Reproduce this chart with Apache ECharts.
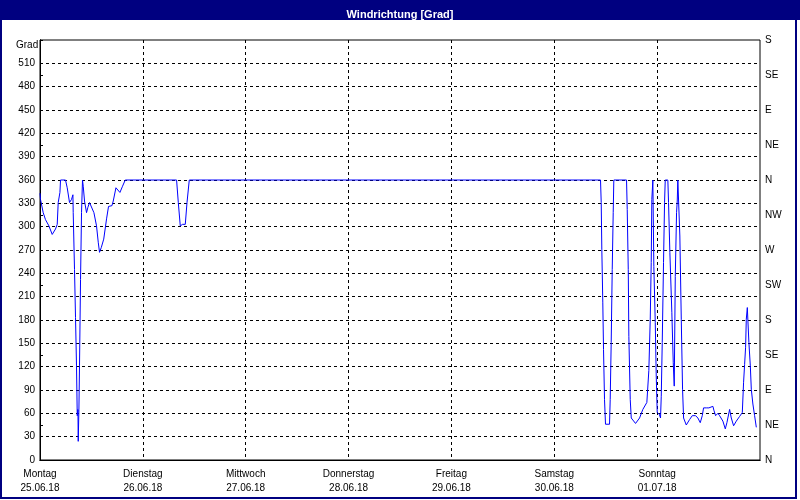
<!DOCTYPE html>
<html>
<head>
<meta charset="utf-8">
<script src="https://cdn.jsdelivr.net/npm/echarts@6/dist/echarts.min.js"></script>
<style>
html,body{margin:0;padding:0;background:#fff;}
#chart{width:800px;height:500px;}
</style>
</head>
<body>
<div id="chart"></div>
<script>
// Time in hours since Monday 25.06.18 00:00
const hours = [
  0, 0.12, 0.75, 1.28, 2.08, 2.85, 3.62, 4.02, 4.25, 4.65, 4.79, 5.95, 6.35, 6.89, 7.35, 7.68, 7.75,
  8.05, 8.29, 8.52, 8.69, 8.85, 8.92, 9.08, 9.22, 9.46, 9.69, 9.92, 10.09, 10.39, 10.86, 11.18, 11.56,
  11.95, 12.58, 13.19, 13.59, 13.89, 14.29, 14.87, 15.53, 15.99, 16.79, 17.09, 17.72, 18.09, 18.65,
  19.26, 19.89, 31.87, 32.27, 32.73, 33.27, 33.90, 34.30, 34.83,
  130.79, 130.95, 131.09, 131.32, 131.49, 131.72, 131.95, 132.89, 133.05, 133.28, 133.52, 133.75, 133.89,
  136.86, 137.02, 137.26, 137.40, 137.72, 137.96, 138.96, 139.90, 140.66, 141.60, 142.06, 142.39, 142.62,
  142.76, 143.00, 143.23, 143.56, 143.79, 144.02, 144.49, 144.79, 144.96, 145.19, 145.49, 145.73, 145.89,
  146.50, 146.66, 146.97, 147.43, 147.76, 147.99, 148.23, 148.53, 148.69, 148.83, 149.16, 149.30, 149.63,
  149.93, 150.17, 150.80, 151.57, 152.20, 152.97, 153.50, 154.06, 154.53, 154.83, 155.46, 156.07, 156.40,
  157.01, 157.24, 157.64, 158.18, 158.57, 158.97, 159.34, 159.90, 160.28, 160.91, 161.30, 161.84, 162.47,
  163.24, 163.87, 164.17, 164.41, 164.64, 164.80, 165.04, 165.18, 165.41, 165.74, 165.97, 166.34, 166.74,
  167.14
];
const degrees = [
  343, 335, 318, 309, 301, 290, 297, 303, 331, 344, 360, 360, 350, 331, 335, 341, 318,
  245, 183, 121, 57, 65, 24, 65, 121, 232, 318, 360, 352, 333, 318, 325, 331,
  331, 318, 301, 280, 267, 273, 284, 310, 326, 327, 333, 350, 348, 344,
  352, 360, 360, 331, 301, 303, 303, 331, 360,
  360, 331, 271, 202, 142, 78, 46, 46, 78, 151, 245, 318, 360,
  360, 322, 245, 159, 78, 54, 47, 54, 65, 74, 115, 181, 254,
  335, 360, 249, 177, 108, 61, 59, 54, 82, 151, 254, 331, 360,
  360, 331, 267, 190, 125, 95, 236, 318, 333, 360, 360, 288, 181,
  91, 54, 45, 52, 57, 57, 54, 48, 57, 67, 67, 67, 69,
  69, 64, 57, 60, 57, 57, 50, 40, 48, 65, 54, 44, 50,
  56, 61, 100, 123, 145, 181, 196, 179, 151, 121, 91, 72, 57,
  42
];
const dayNames = ['Montag', 'Dienstag', 'Mittwoch', 'Donnerstag', 'Freitag', 'Samstag', 'Sonntag'];
const dayDates = ['25.06.18', '26.06.18', '27.06.18', '28.06.18', '29.06.18', '30.06.18', '01.07.18'];
const compass = ['N', 'NE', 'E', 'SE', 'S', 'SW', 'W', 'NW', 'N', 'NE', 'E', 'SE', 'S'];

const FONT = 'Liberation Sans';
const chart = echarts.init(document.getElementById('chart'), null, {renderer: 'canvas'});
const data = hours.map((h, i) => [h, degrees[i]]);
const dash = {color: '#000', width: 1, type: [3, 3]};

chart.setOption({
  animation: false,
  backgroundColor: '#ffffff',
  title: {
    text: 'Windrichtung [Grad]',
    left: 'center',
    top: 4,
    textStyle: {color: '#ffffff', fontSize: 11, fontWeight: 'bold', fontFamily: FONT}
  },
  graphic: [
    {type: 'rect', z: -1, shape: {x: 1, y: 0, width: 795, height: 498}, style: {fill: null, stroke: '#000080', lineWidth: 2}},
    {type: 'rect', z: -1, shape: {x: 0, y: 0, width: 800, height: 20}, style: {fill: '#000080'}},
    {type: 'text', left: 16, top: 40, style: {text: 'Grad', fill: '#000', font: '10px ' + FONT}}
  ],
  grid: {left: 40, right: 40, top: 40, bottom: 40, show: true, borderColor: '#000', borderWidth: 1, backgroundColor: '#ffffff'},
  xAxis: [
    {
      type: 'value', min: 0, max: 168, interval: 24,
      axisLine: {lineStyle: {color: '#000', width: 1}},
      axisTick: {show: false},
      splitLine: {show: true, showMinLine: false, showMaxLine: false, lineStyle: dash},
      axisLabel: {
        color: '#000', fontSize: 10, fontFamily: FONT, lineHeight: 14, margin: 7,
        formatter: v => { const i = Math.round(v / 24); return i < dayNames.length ? dayNames[i] + '\n' + dayDates[i] : ''; }
      }
    },
    {
      type: 'value', min: 0, max: 168, interval: 24, position: 'top',
      axisLine: {show: true, lineStyle: {color: '#000', width: 1}},
      axisTick: {show: false},
      axisLabel: {show: false},
      splitLine: {show: false}
    }
  ],
  yAxis: [
    {
      type: 'value', min: 0, max: 540, interval: 30, position: 'left',
      axisLine: {show: true, lineStyle: {color: '#000', width: 1}},
      axisTick: {show: false},
      splitLine: {show: true, showMinLine: false, showMaxLine: false, lineStyle: dash},
      axisLabel: {color: '#000', fontSize: 10, fontFamily: FONT, margin: 5, formatter: v => v >= 540 ? '' : String(v)}
    },
    {
      type: 'value', min: 0, max: 540, interval: 45, position: 'right',
      axisLine: {show: true, lineStyle: {color: '#000', width: 1}},
      axisTick: {show: true, length: 3, lineStyle: {color: '#000'}},
      splitLine: {show: false},
      axisLabel: {color: '#000', fontSize: 10, fontFamily: FONT, margin: 5, formatter: v => compass[Math.round(v / 45)] || ''}
    }
  ],
  series: [{
    type: 'line',
    xAxisIndex: 0,
    yAxisIndex: 0,
    data: data,
    showSymbol: false,
    symbol: 'none',
    lineStyle: {color: '#0000ff', width: 1},
    itemStyle: {color: '#0000ff'}
  }]
});
</script>
</body>
</html>
